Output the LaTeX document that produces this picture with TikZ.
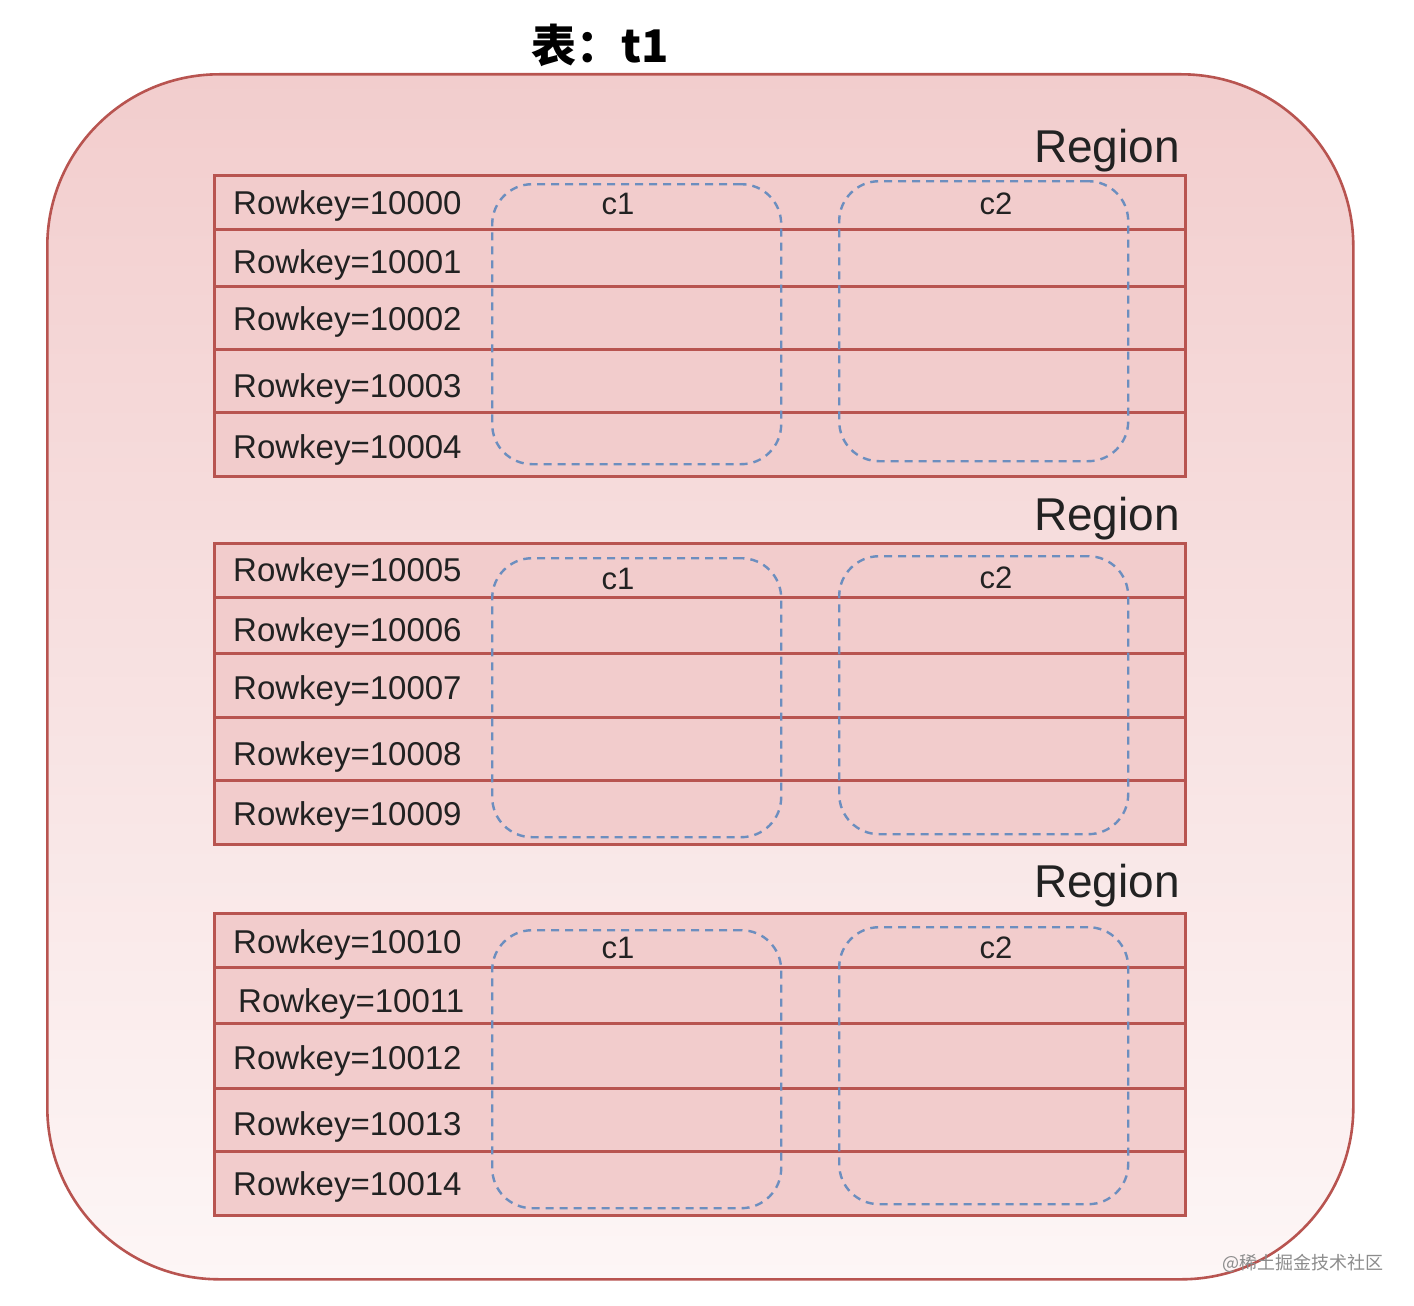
\documentclass[tikz,border=0pt]{standalone}
\usepackage{fontspec}
\setmainfont{Liberation Sans}
\newfontfamily\cjk{Noto Sans CJK SC}
\definecolor{rborder}{HTML}{B85450}
\definecolor{rfill}{HTML}{F2CCCC}
\definecolor{ctop}{HTML}{F2CDCD}
\definecolor{cbot}{HTML}{FDF6F6}
\definecolor{cblue}{HTML}{6C8EBF}
\definecolor{ink}{HTML}{222222}
\tikzset{
  outerbox/.style={draw=rborder, line width=2.6pt, rounded corners=172pt, top color=ctop, bottom color=cbot, anchor=north west, inner sep=0pt},
  rowbox/.style={draw=rborder, fill=rfill, line width=2.8pt, anchor=north west, minimum width=971pt, inner sep=0pt},
  colbox/.style={draw=cblue, dash pattern=on 8pt off 6pt, line width=2.4pt, rounded corners=40pt, anchor=north west, inner sep=0pt, minimum width=289pt},
  rowtext/.style={anchor=west, inner sep=0pt, text=ink, font=\fontsize{33}{40}\selectfont},
  coltext/.style={anchor=center, inner sep=0pt, text=ink, font=\fontsize{31}{38}\selectfont},
  regtext/.style={anchor=base east, inner sep=0pt, text=ink, font=\fontsize{46}{54}\selectfont},
}
\begin{document}
\begin{tikzpicture}[x=1pt,y=-1pt]
\useasboundingbox[fill=white] (0,0) rectangle (1414,1306);
\node[anchor=center, inner sep=0pt, font=\cjk\bfseries\fontsize{45}{52}\selectfont] (title) at (600,45) {表：t1};
\node[outerbox, minimum width=1306pt, minimum height=1205pt] (table) at (46,73) {};
% region 1
\foreach \i/\a/\b in {1/174/228, 2/228/285, 3/285/348, 4/348/411, 5/411/475}{
  \pgfmathsetmacro{\h}{\b-\a}
  \node[rowbox, minimum height=\h pt] (ra\i) at (213,\a) {};
}
\foreach \i/\a/\b in {1/542/596, 2/596/652, 3/652/716, 4/716/779, 5/779/843}{
  \pgfmathsetmacro{\h}{\b-\a}
  \node[rowbox, minimum height=\h pt] (rb\i) at (213,\a) {};
}
\foreach \i/\a/\b in {1/912/966, 2/966/1022, 3/1022/1087, 4/1087/1150, 5/1150/1214}{
  \pgfmathsetmacro{\h}{\b-\a}
  \node[rowbox, minimum height=\h pt] (rc\i) at (213,\a) {};
}
% row labels
\node[rowtext] (ka1) at (233,206) {Rowkey=10000};
\node[rowtext] (ka2) at (233,265) {Rowkey=10001};
\node[rowtext] (ka3) at (233,322) {Rowkey=10002};
\node[rowtext] (ka4) at (233,389) {Rowkey=10003};
\node[rowtext] (ka5) at (233,450) {Rowkey=10004};
\node[rowtext] (kb1) at (233,573) {Rowkey=10005};
\node[rowtext] (kb2) at (233,633) {Rowkey=10006};
\node[rowtext] (kb3) at (233,691) {Rowkey=10007};
\node[rowtext] (kb4) at (233,757) {Rowkey=10008};
\node[rowtext] (kb5) at (233,817) {Rowkey=10009};
\node[rowtext] (kc1) at (233,945) {Rowkey=10010};
\node[rowtext] (kc2) at (238,1004) {Rowkey=10011};
\node[rowtext] (kc3) at (233,1061) {Rowkey=10012};
\node[rowtext] (kc4) at (233,1127) {Rowkey=10013};
\node[rowtext] (kc5) at (233,1187) {Rowkey=10014};
% column families
\node[colbox, minimum height=280pt] (ca1) at (491,183) {};
\node[colbox, minimum height=280pt] (ca2) at (838,180) {};
\node[colbox, minimum height=279pt] (cb1) at (491,557) {};
\node[colbox, minimum height=278pt] (cb2) at (838,555) {};
\node[colbox, minimum height=278pt] (cc1) at (491,929) {};
\node[colbox, minimum height=277pt] (cc2) at (838,926) {};
\node[coltext] (la1) at (618,204) {c1};
\node[coltext] (la2) at (996,204) {c2};
\node[coltext] (lb1) at (618,579) {c1};
\node[coltext] (lb2) at (996,578) {c2};
\node[coltext] (lc1) at (618,948) {c1};
\node[coltext] (lc2) at (996,948) {c2};
% region labels
\node[regtext] (ga) at (1180,162) {Region};
\node[regtext] (gb) at (1180,530) {Region};
\node[regtext] (gc) at (1180,897) {Region};
% watermark
\node[anchor=west, inner sep=0pt, text=black!45, font=\cjk\fontsize{18}{22}\selectfont] (wm) at (1222,1263) {@稀土掘金技术社区};
\end{tikzpicture}
\end{document}
